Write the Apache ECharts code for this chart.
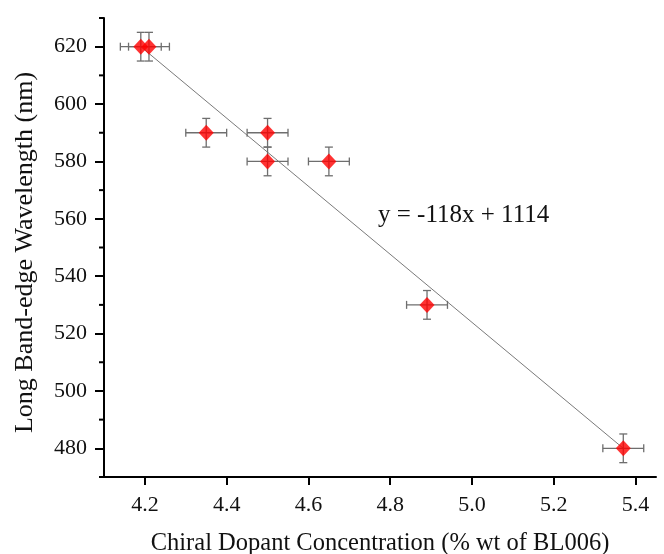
<!DOCTYPE html>
<html>
<head>
<meta charset="utf-8">
<script src="https://cdn.jsdelivr.net/npm/echarts@6/dist/echarts.min.js"></script>
<style>
  html, body { margin: 0; padding: 0; background: #fff; }
  #root { width: 664px; height: 554px; }
</style>
</head>
<body>
<div id="root"></div>
<script>
// dopant concentration (% wt) and long band-edge wavelength (nm)
const concentration = [4.19, 4.21, 4.35, 4.5, 4.5, 4.65, 4.89, 5.37];
const wavelength = [620, 620, 590, 590, 580, 580, 530, 480];
const xErr = [0.05, 0.05, 0.05, 0.05, 0.05, 0.05, 0.05, 0.05];
const yErr = [5, 5, 5, 5, 5, 5, 5, 5];
// linear fit drawn across the data range
const fitX = [4.19, 5.37];
const fitY = [620, 480];
const fitLabel = 'y = -118x + 1114';
const xTicks = [4.2, 4.4, 4.6, 4.8, 5.0, 5.2, 5.4];
const yTicks = [480, 500, 520, 540, 560, 580, 600, 620];
const yMinor = [470, 490, 510, 530, 550, 570, 590, 610, 630];

const font = '"Liberation Serif", "DejaVu Serif", serif';

const points = concentration.map((x, i) => [x, wavelength[i]]);
const errData = concentration.map((x, i) => [x, wavelength[i], xErr[i], yErr[i]]);

const chart = echarts.init(document.getElementById('root'));

function renderErr (params, api) {
  const x = api.value(0), y = api.value(1), dx = api.value(2), dy = api.value(3);
  const c = api.coord([x, y]);
  const l = api.coord([x - dx, y]), r = api.coord([x + dx, y]);
  const t = api.coord([x, y + dy]), b = api.coord([x, y - dy]);
  const cap = 4;
  const style = { stroke: '#6e6e6e', lineWidth: 1.3 };
  const seg = (x1, y1, x2, y2) => ({ type: 'line', shape: { x1, y1, x2, y2 }, style });
  return {
    type: 'group',
    children: [
      seg(l[0], c[1], r[0], c[1]),
      seg(l[0], c[1] - cap, l[0], c[1] + cap),
      seg(r[0], c[1] - cap, r[0], c[1] + cap),
      seg(c[0], t[1], c[0], b[1]),
      seg(c[0] - cap, t[1], c[0] + cap, t[1]),
      seg(c[0] - cap, b[1], c[0] + cap, b[1])
    ]
  };
}

const option = {
  backgroundColor: '#fff',
  animation: false,
  grid: { left: 104, top: 18, right: 8, bottom: 77, outerBoundsMode: 'none' },
  xAxis: {
    type: 'value',
    min: 4.1,
    max: 5.45,
    interval: 0.2,
    name: 'Chiral Dopant Concentration (% wt of BL006)',
    nameLocation: 'middle',
    nameGap: 54,
    nameTextStyle: { fontFamily: font, fontSize: 24.5, color: '#111' },
    axisLine: { lineStyle: { color: '#000', width: 2 } },
    axisTick: { length: 8, lineStyle: { color: '#000', width: 2 }, customValues: xTicks },
    axisLabel: {
      fontFamily: font, fontSize: 22, color: '#111', margin: 17,
      customValues: xTicks,
      formatter: v => v.toFixed(1)
    },
    splitLine: { show: false }
  },
  yAxis: {
    type: 'value',
    min: 470,
    max: 630,
    interval: 10,
    name: 'Long Band-edge Wavelength (nm)',
    nameLocation: 'middle',
    nameGap: 66,
    nameTextStyle: { fontFamily: font, fontSize: 26, color: '#111', padding: [0, 10, 0, 0] },
    axisLine: { lineStyle: { color: '#000', width: 2 } },
    axisTick: {
      length: 9, lineStyle: { color: '#000', width: 2 },
      customValues: yTicks
    },
    axisLabel: {
      fontFamily: font, fontSize: 22, color: '#111', margin: 17,
      customValues: yTicks
    },
    splitLine: { show: false }
  },
  series: [
    {
      type: 'line',
      data: fitX.map((x, i) => [x, fitY[i]]),
      symbol: 'none',
      lineStyle: { color: '#7a7a7a', width: 1 },
      z: 1
    },
    {
      type: 'custom',
      data: errData,
      renderItem: renderErr,
      encode: { x: 0, y: 1 },
      z: 2
    },
    {
      type: 'scatter',
      data: points,
      symbol: 'diamond',
      symbolSize: [15, 16],
      itemStyle: { color: '#ff0000' },
      z: 3
    },
    {
      // minor ticks on the value axis, drawn as short marks
      type: 'custom',
      data: yMinor.map(v => [4.1, v]),
      encode: { x: 0, y: 1 },
      renderItem: (params, api) => {
        const p = api.coord([api.value(0), api.value(1)]);
        return { type: 'line', shape: { x1: p[0] - 5, y1: p[1], x2: p[0], y2: p[1] }, style: { stroke: '#000', lineWidth: 2 } };
      },
      clip: false,
      silent: true,
      z: 4
    }
  ],
  graphic: [
    {
      type: 'text',
      left: 378,
      top: 203,
      style: { text: fitLabel, fontFamily: font, fontSize: 25, fill: '#111' }
    }
  ]
};

chart.setOption(option);
</script>
</body>
</html>
